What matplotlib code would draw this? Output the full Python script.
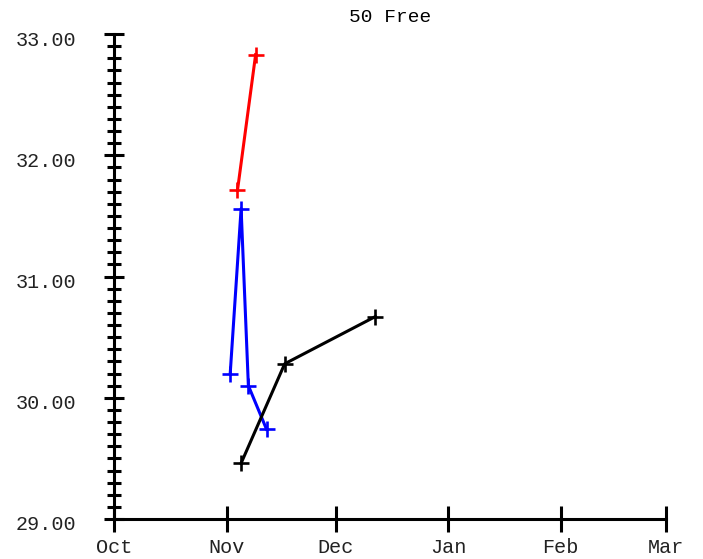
import numpy as np
import matplotlib.pyplot as plt
import matplotlib.dates as mdates
import matplotlib.transforms as mtransforms
from matplotlib.ticker import MultipleLocator, FormatStrFormatter
import datetime as dt

# swim times (seconds)
red_dates = [dt.date(2023, 11, 4), dt.date(2023, 11, 9)]
red_times = [31.71, 32.83]

blue_dates = [dt.date(2023, 11, 2), dt.date(2023, 11, 5), dt.date(2023, 11, 7), dt.date(2023, 11, 12)]
blue_times = [30.20, 31.56, 30.10, 29.74]

black_dates = [dt.date(2023, 11, 5), dt.date(2023, 11, 17), dt.date(2023, 12, 12)]
black_times = [29.46, 30.28, 30.67]

month_ticks = [dt.date(2023, 10, 1), dt.date(2023, 11, 1), dt.date(2023, 12, 1),
               dt.date(2024, 1, 1), dt.date(2024, 2, 1), dt.date(2024, 3, 1)]
month_labels = ["Oct", "Nov", "Dec", "Jan", "Feb", "Mar"]

plt.rcParams['font.family'] = ['Liberation Mono', 'DejaVu Sans Mono']

fig = plt.figure(figsize=(7.03, 5.59), dpi=100)
ax = fig.add_axes([114 / 703, 40 / 559, 552 / 703, 485 / 559])

for d, t, c in [(red_dates, red_times, "red"),
                (blue_dates, blue_times, "blue"),
                (black_dates, black_times, "black")]:
    ax.plot(d, t, color=c, lw=2.2, marker="+", ms=11.5, mew=1.9, clip_on=False)

ax.set_xlim(month_ticks[0], month_ticks[-1])
ax.set_ylim(29, 33)

ax.set_xticks(month_ticks)
ax.set_xticklabels(month_labels)
ax.yaxis.set_major_locator(MultipleLocator(1))
ax.yaxis.set_minor_locator(MultipleLocator(0.1))
ax.yaxis.set_major_formatter(FormatStrFormatter("%.2f"))

for s in ["top", "right"]:
    ax.spines[s].set_visible(False)
for s in ["left", "bottom"]:
    ax.spines[s].set_linewidth(2.2)

ax.tick_params(axis="x", which="major", direction="inout", length=19, width=2.2,
               labelsize=14.5, pad=4, colors="black")
ax.tick_params(axis="y", which="major", direction="inout", length=14, width=2.2,
               labelsize=14.5, pad=20)
ax.tick_params(axis="y", which="minor", direction="inout", length=9.5, width=2.2)

# y labels sit a little below their ticks in the original
shift = mtransforms.ScaledTranslation(0, -4 / 100, fig.dpi_scale_trans)
for lbl in ax.get_yticklabels():
    lbl.set_transform(lbl.get_transform() + shift)
for lbl in ax.get_xticklabels() + ax.get_yticklabels():
    lbl.set_color("#222222")

ax.set_title("50 Free", fontsize=14, pad=9)
fig.savefig("out.png", dpi=100)
